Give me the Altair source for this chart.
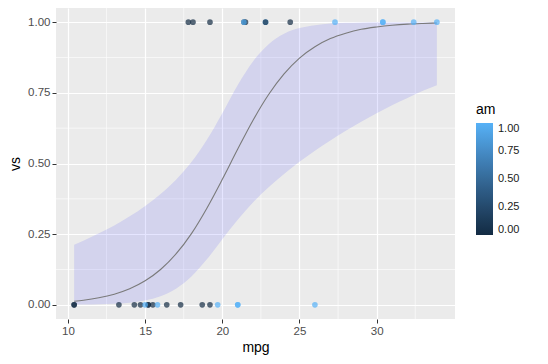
import altair as alt
import pandas as pd

# mtcars: mpg, vs, am
mpg = [21.0, 21.0, 22.8, 21.4, 18.7, 18.1, 14.3, 24.4, 22.8, 19.2, 17.8, 16.4,
       17.3, 15.2, 10.4, 10.4, 14.7, 32.4, 30.4, 33.9, 21.5, 15.5, 15.2, 13.3,
       19.2, 27.3, 26.0, 30.4, 15.8, 19.7, 15.0, 21.4]
vs = [0, 0, 1, 1, 0, 1, 0, 1, 1, 1, 1, 0, 0, 0, 0, 0, 0, 1, 1, 1, 1, 0, 0, 0,
      0, 1, 0, 1, 0, 0, 0, 1]
am = [1, 1, 1, 0, 0, 0, 0, 0, 0, 0, 0, 0, 0, 0, 0, 0, 0, 1, 1, 1, 0, 0, 0, 0,
      0, 1, 1, 1, 1, 1, 1, 1]

# logistic smooth (fit and 95% band) read at these mpg values
grid_mpg = [10.4, 11, 12, 13, 14, 15, 16, 17, 18, 19, 20, 21, 22, 23, 24, 25,
            26, 27, 28, 29, 30, 31, 32, 33, 33.9]
fit = [0.0127, 0.0163, 0.0249, 0.0378, 0.0569, 0.085, 0.125, 0.180, 0.252,
       0.342, 0.444, 0.551, 0.654, 0.744, 0.817, 0.873, 0.913, 0.942, 0.961,
       0.9747, 0.983, 0.989, 0.993, 0.9954, 0.997]
lower = [0.0006, 0.0009, 0.0019, 0.0039, 0.0079, 0.0158, 0.0306, 0.0573,
         0.1005, 0.161, 0.232, 0.301, 0.363, 0.416, 0.463, 0.506, 0.545,
         0.5815, 0.616, 0.6477, 0.678, 0.706, 0.732, 0.757, 0.777]
upper = [0.213, 0.227, 0.253, 0.281, 0.313, 0.350, 0.392, 0.4425, 0.505,
         0.584, 0.678, 0.778, 0.862, 0.922, 0.959, 0.979, 0.989, 0.9948,
         0.9974, 0.9988, 0.9994, 0.9997, 0.9999, 0.9999, 1.0]

x_ticks = [10, 15, 20, 25, 30]
y_ticks = [0, 0.25, 0.5, 0.75, 1.0]
x_minor = [12.5, 17.5, 22.5, 27.5, 32.5]
y_minor = [0.125, 0.375, 0.625, 0.875]
legend_values = [0, 0.25, 0.5, 0.75, 1.0]

cars = pd.DataFrame({"mpg": mpg, "vs": vs, "am": am})
smooth = pd.DataFrame({"mpg": grid_mpg, "fit": fit, "lower": lower, "upper": upper})

xdom = [9.225, 35.075]
ydom = [-0.05, 1.05]
xs = alt.Scale(domain=xdom, nice=False, zero=False)
ys = alt.Scale(domain=ydom, nice=False, zero=False)

xaxis = alt.Axis(values=x_ticks, title="mpg", format="d", titlePadding=4)
yaxis = alt.Axis(values=y_ticks, title="vs", format=".2f", titlePadding=5)

FONT = "Liberation Sans"

minor_x = alt.Chart(pd.DataFrame({"m": x_minor})).mark_rule(
    color="white", strokeWidth=0.6
).encode(x=alt.X("m:Q", scale=xs, axis=xaxis))
minor_y = alt.Chart(pd.DataFrame({"m": y_minor})).mark_rule(
    color="white", strokeWidth=0.6
).encode(y=alt.Y("m:Q", scale=ys, axis=yaxis))

band = alt.Chart(smooth).mark_area(
    color="blue", opacity=0.1, interpolate="monotone"
).encode(
    x=alt.X("mpg:Q", scale=xs, axis=xaxis),
    y=alt.Y("lower:Q", scale=ys, axis=yaxis),
    y2="upper:Q",
)
line = alt.Chart(smooth).mark_line(
    color="#7a7a7a", strokeWidth=1.1, interpolate="monotone"
).encode(
    x=alt.X("mpg:Q", scale=xs, axis=xaxis),
    y=alt.Y("fit:Q", scale=ys, axis=yaxis),
)
points = alt.Chart(cars).mark_circle(size=32, fillOpacity=0.7, opacity=1).encode(
    x=alt.X("mpg:Q", scale=xs, axis=xaxis),
    y=alt.Y("vs:Q", scale=ys, axis=yaxis),
    color=alt.Color(
        "am:Q",
        scale=alt.Scale(domain=[0, 1], range=["#132B43", "#56B1F7"]),
        legend=alt.Legend(
            title="am", format=".2f", values=legend_values,
            orient="none", legendX=420, legendY=95,
            gradientLength=112, gradientThickness=17, gradientOpacity=1,
            gradientStrokeWidth=0, titleFontSize=14, titleFontWeight="normal",
            labelFontSize=11, labelColor="#1a1a1a", titleColor="#000000",
            titlePadding=6, labelOffset=5, labelFont=FONT, titleFont=FONT,
        ),
    ),
)

chart = alt.layer(minor_x, minor_y, band, line, points).properties(
    width=399, height=311,
    autosize=alt.AutoSizeParams(type="none"),
    padding={"left": 48, "top": 0, "right": 85, "bottom": 37},
).configure_view(
    fill="#EBEBEB", stroke=None
).configure_axis(
    grid=True, gridColor="white", gridWidth=1.2, domain=False,
    tickColor="#333333", tickSize=4, tickWidth=1,
    labelColor="#4D4D4D", labelFontSize=11.5, labelFont=FONT,
    titleFontSize=14, titleFontWeight="normal", titleColor="#000000",
    titleFont=FONT, labelPadding=2,
).configure_legend(
    labelFont=FONT, titleFont=FONT
)

chart.save("out.html", embed_options={"renderer": "svg", "actions": False})
